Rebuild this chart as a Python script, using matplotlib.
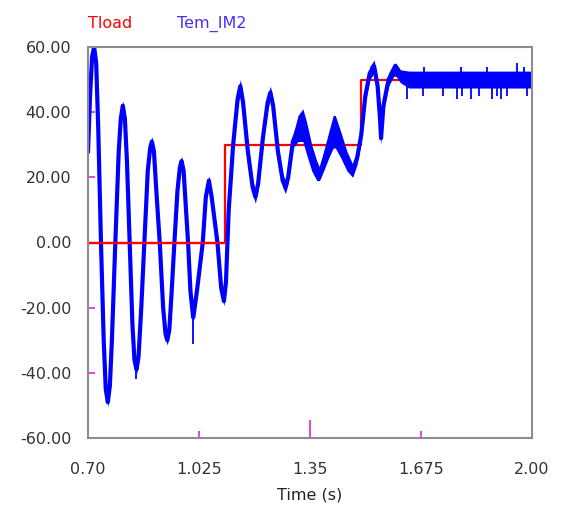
import numpy as np
from matplotlib import pyplot as plt

# Tload (step reference torque)
tload_t = [0.70, 1.10, 1.10, 1.50, 1.50, 2.00]
tload_v = [0, 0, 30, 30, 50, 50]

# Tem_IM2 (electromagnetic torque)
tem_t = [0.700, 0.706, 0.712, 0.718, 0.724, 0.730, 0.738, 0.746, 0.752, 0.758,
         0.764, 0.770, 0.780, 0.790, 0.796, 0.802, 0.808, 0.814, 0.822, 0.830,
         0.836, 0.842, 0.848, 0.856, 0.865, 0.875, 0.882, 0.887, 0.893, 0.900,
         0.910, 0.920, 0.927, 0.932, 0.938, 0.945, 0.953, 0.962, 0.969, 0.974,
         0.980, 0.987, 0.993, 1.000, 1.006, 1.008, 1.011, 1.020, 1.036, 1.045,
         1.054, 1.062, 1.079, 1.090, 1.098, 1.104, 1.112, 1.125, 1.138, 1.146,
         1.154, 1.168, 1.182, 1.190, 1.198, 1.212, 1.226, 1.234, 1.242, 1.256,
         1.270, 1.278, 1.286, 1.300, 1.315, 1.329, 1.340, 1.355, 1.370, 1.378,
         1.390, 1.405, 1.418, 1.424, 1.440, 1.458, 1.475, 1.488, 1.500, 1.512,
         1.525, 1.538, 1.548, 1.555, 1.558, 1.565, 1.580, 1.595, 1.602, 1.615,
         1.640, 1.700, 1.760, 1.820, 1.880, 1.940, 2.000]
tem_v = [28, 45, 57, 60, 55, 35, 0, -30, -45, -49,
         -44, -30, 0, 28, 38, 42, 38, 25, 0, -25,
         -36, -39, -35, -20, 0, 22, 29, 31, 28, 16,
         0, -20, -28, -30, -27, -15, 0, 16, 23, 25,
         22, 10, 0, -15, -21, -23, -21, -14, 0, 14,
         19, 14, 0, -14, -18, -12, 10, 30, 44, 48,
         43, 28, 17, 14, 18, 32, 43, 46, 42, 28,
         19, 17, 20, 31, 35, 36, 32, 26, 22, 21,
         25, 30, 34, 34, 30, 25, 22, 26, 33, 45,
         52, 54, 48, 38, 32, 42, 50, 53, 53, 51,
         50, 50, 50, 50, 50, 50, 50]
# high-frequency ripple amplitude around the trace
tem_ripple = ([1.5] * 56 + [2.0] * 18 +
              [4, 5, 5, 4, 3, 2, 3, 4, 5, 5, 4, 3, 2] +
              [2.0] * 13 + [2.6] * 7)

# short spikes on the trace
spike_t = [0.842, 1.008, 1.635, 1.682, 1.740, 1.781, 1.795, 1.822, 1.845,
           1.883, 1.898, 1.909, 1.927, 1.985, 1.684, 1.792, 1.868, 1.956, 1.976]
spike_base = [-39, -23, 50, 50, 50, 50, 50, 50, 50,
              50, 50, 50, 50, 50, 50, 50, 50, 50, 50]
spike_v = [-42, -31, 44, 45, 45, 44, 45, 44, 45,
           44, 45, 44, 45, 45, 54, 54, 54, 55, 54]

xticks = [0.70, 1.025, 1.35, 1.675, 2.00]
xticklabels = ["0.70", "1.025", "1.35", "1.675", "2.00"]
yticks = [-60, -40, -20, 0, 20, 40, 60]

BLUE = "#0000ff"
RED = "#ff0000"

fig = plt.figure(figsize=(5.63, 5.12), dpi=100)
ax = fig.add_axes([88 / 563, 1 - 438 / 512, 444 / 563, 391 / 512])

# red steps under the blue trace, except the zero level which shows through
ax.plot(tload_t, tload_v, color=RED, lw=1.6, zorder=1)
ax.plot(tload_t[:2], tload_v[:2], color=RED, lw=1.6, zorder=4)

t = np.array(tem_t)
v = np.array(tem_v, dtype=float)
r = np.array(tem_ripple, dtype=float)
ax.fill_between(t, v - r, v + r, color=BLUE, lw=0, zorder=2)
ax.plot(t, v, color=BLUE, lw=3.0, zorder=2)
ax.vlines(spike_t, spike_base, spike_v, color=BLUE, lw=1.3, zorder=2)

ax.set_xlim(0.70, 2.00)
ax.set_ylim(-60, 60)
ax.set_xticks(xticks)
ax.set_xticklabels(xticklabels)
ax.set_yticks(yticks)
ax.set_yticklabels(["%.2f" % y for y in yticks])

for s in ax.spines.values():
    s.set_color("#8c8c8c")
    s.set_linewidth(1.5)
    s.set_zorder(5)

ax.tick_params(direction="in", length=5, width=1.2, color="#e020e0",
               labelsize=11.5, labelcolor="#333333")
ax.tick_params(axis="x", pad=17)
ax.tick_params(axis="y", pad=12)
ax.xaxis.get_major_ticks()[2].tick1line.set_markersize(13)

ax.set_xlabel("Time (s)", fontsize=11.5, color="#222222", labelpad=8)

fig.text(88 / 563, 1 - 24 / 512, "Tload", color=RED, fontsize=11.5,
         va="center", ha="left")
fig.text(177 / 563, 1 - 24 / 512, "Tem_IM2", color="#4a2cf5", fontsize=11.5,
         va="center", ha="left")

fig.savefig("out.png", dpi=100)
